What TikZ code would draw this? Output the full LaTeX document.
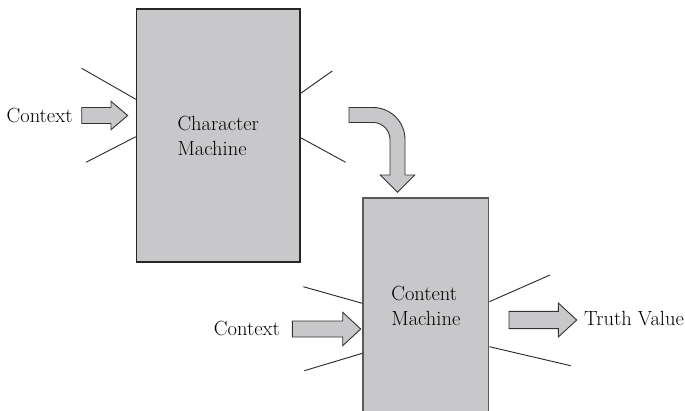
\documentclass[tikz,border=0pt]{standalone}
\usepackage{fontspec}
\begin{document}
\begin{tikzpicture}[x=1pt,y=-1pt,
  machine/.style={draw=#1,line width=1.3pt,fill=boxgrey,align=left,inner sep=0pt,
    font=\fontsize{20.5}{25}\selectfont},
  machine/.default=black!85,
  spoke/.style={line width=0.9pt,draw=black!85},
  label/.style={inner sep=0pt,font=\fontsize{20.5}{25}\selectfont},
  blockarrow/.style={draw=black!80,line width=0.9pt,fill=boxgrey,line join=miter}]
\definecolor{boxgrey}{HTML}{C8C8CA}
\useasboundingbox (0,0) rectangle (685,410);
\clip (0,0) rectangle (685,410);

% the two machines
\node[machine, minimum width=163.5pt, minimum height=253pt] (cm) at (218.25,135.5) {Character\\Machine};
\node[machine=black!65, minimum width=125.7pt, minimum height=216pt] (tm) at (425.85,306) {Content\\Machine};

% free ends of the short lines around the machines
\coordinate (cl1) at (81.7,68.3);
\coordinate (cl2) at (86,162.3);
\coordinate (cr1) at (332.3,71);
\coordinate (cr2) at (345.7,162.3);
\coordinate (tl1) at (303.3,286.7);
\coordinate (tl2) at (304.3,370.7);
\coordinate (tr1) at (550,275);
\coordinate (tr2) at (570.7,365.7);

\draw[spoke] (cm.west |- 0,99.3) -- (cl1);
\draw[spoke] (cm.west |- 0,136.7) -- (cl2);
\draw[spoke] (cm.east |- 0,93.3) -- (cr1);
\draw[spoke] (cm.east |- 0,137.7) -- (cr2);
\draw[spoke] (tm.west |- 0,303.3) -- (tl1);
\draw[spoke] (tm.west |- 0,353.3) -- (tl2);
\draw[spoke] (tm.east |- 0,301.7) -- (tr1);
\draw[spoke] (tm.east |- 0,346.7) -- (tr2);

% labels
\node[label, anchor=east] (ctx1) at (72.7,115) {Context};
\node[label, anchor=east] (ctx2) at (280,328.5) {Context};
\node[label, anchor=west] (tv) at (584,319) {Truth Value};

% straight block arrows: tail x, shaft end x, tip x, centre y, shaft half width, head half width
\newcommand\blockarrowpath[6]{%
  \draw[blockarrow] (#1,#4-#5) -- (#2,#4-#5) -- (#2,#4-#6) -- (#3,#4) -- (#2,#4+#6)
    -- (#2,#4+#5) -- (#1,#4+#5) -- cycle;}
\blockarrowpath{81.7}{111}{127.7}{115.5}{8}{14.2}
\blockarrowpath{292.3}{342.7}{360.7}{329}{8}{16.7}
\blockarrowpath{509}{558.3}{576.7}{320}{8.6}{17}

% bent arrow from the character machine down to the content machine
% (y axis points down, so the arc angles are mirrored)
\draw[blockarrow] (349,107.5) -- (373,107.5) arc[start angle=-90,end angle=0,radius=32]
  -- (405,175) -- (414.8,175) -- (397.5,192.3) -- (380.2,175) -- (390,175)
  -- (390,139.5) arc[start angle=0,end angle=-90,radius=17] -- (349,122.5) -- cycle;
\end{tikzpicture}
\end{document}
